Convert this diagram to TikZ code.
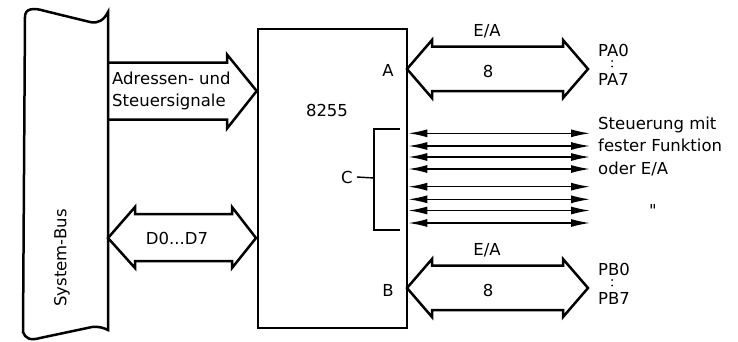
\documentclass[tikz,border=0pt]{standalone}
\usepackage{fontspec}
\setmainfont{DejaVu Sans}
\usetikzlibrary{arrows.meta}
\tikzset{
  lbl/.style={inner sep=0pt,font=\fontsize{16.5}{22.5}\selectfont},
  fat/.style={line width=2.5pt,line join=miter},
  sig/.style={line width=1.4pt,{Latex[length=19pt,width=8pt]}-{Latex[length=19pt,width=8pt]}}
}
\begin{document}
\begin{tikzpicture}[x=1pt,y=-1pt]
\useasboundingbox (0,0) rectangle (738,341);

% system bus
\draw[line width=2.5pt] (108,12) .. controls (104,20) and (98,24) .. (90,22)
  -- (45,11) .. controls (32,7) and (25,9) .. (25,17)
  -- (23,332) .. controls (25,338) and (30,341) .. (40,338)
  -- (92,327) .. controls (98,326) and (104,328) .. (108,330) -- cycle;
\node[lbl,rotate=90] (bus) at (62,258) {System-Bus};

% 8255
\node[draw,line width=2.6pt,minimum width=149pt,minimum height=299pt,inner sep=0pt] (chip) at (332.5,178.5) {};
\node[lbl] (name) at (327,110) {8255};
\node[lbl] (pa) at (388,70) {A};
\node[lbl] (pb) at (388,290) {B};

% address/control
\draw[fat] (108,62.5) -- (227,62.5) -- (227,54.5) -- (chip.west |- 0,91) -- (227,128.5) -- (227,119.5) -- (108,119.5);
\node[lbl,anchor=west,align=left] (adr) at (112,91) {Adressen- und\\Steuersignale};

% data bus
\draw[fat] (256,238) -- (232,207) -- (232,214) -- (135,214) -- (135,207) -- (108,238)
  -- (135,268) -- (135,261) -- (232,261) -- (232,268) -- cycle;
\node[lbl] (data) at (177,238) {D0...D7};

% ports A and B
\foreach \dy/\nm in {0/A,219/B}{
  \draw[fat,yshift=-\dy] (407,69) -- (432,40) -- (432,46.5) -- (563,46.5) -- (563,40) -- (588,69)
    -- (563,98) -- (563,91) -- (432,91) -- (432,98) -- cycle;
  \node[lbl] (ea\nm) at (487,31+\dy) {E/A};
  \node[lbl] (w\nm) at (488,71+\dy) {8};
  \node[lbl,anchor=west] (p\nm0) at (598,50+\dy) {P\nm0};
  \node[lbl,anchor=west] (p\nm7) at (598,79+\dy) {P\nm7};
  \fill (612,61+\dy) circle (1pt) (612,66.5+\dy) circle (1pt);
}

% port C
\draw[line width=1.4pt] (400,129) -- (374,129) -- (374,230) -- (400,230);
\coordinate (cm) at (374,178);
\node[lbl] (pc) at (347,177) {C};
\draw[line width=1.4pt] (pc.east) ++(4,0) -- (cm);
\foreach \y in {133.3,146,157,169,186.7,199.3,210.5,223}{
  \coordinate (ce) at (590,\y);
  \draw[sig] (chip.east |- ce) -- (ce);
}
\node[lbl,anchor=west,align=left] (ctl) at (598,146) {Steuerung mit\\fester Funktion\\oder E/A};
\node[lbl] (ditto) at (653,210) {\textquotedbl};
\end{tikzpicture}
\end{document}
